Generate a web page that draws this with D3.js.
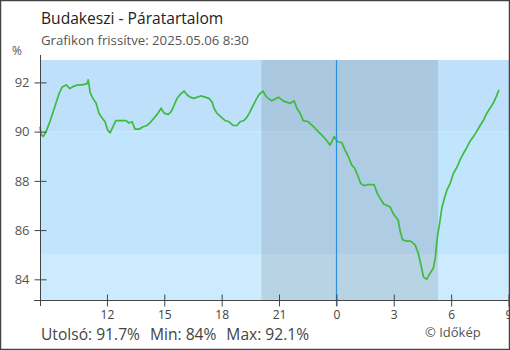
<!DOCTYPE html>
<html>
<head>
<meta charset="utf-8">
<script src="https://cdn.jsdelivr.net/npm/d3@7"></script>
<style>
  html, body { margin: 0; padding: 0; background: #fff; }
  svg { display: block; font-family: "Open Sans", "Noto Sans", sans-serif; }
</style>
</head>
<body>
<svg id="chart" width="510" height="350"></svg>
<script>
// Humidity readings, Budakeszi, 2025-05-05 08:30 → 2025-05-06 08:30
const times = [
  "08:30","08:33","08:40","08:49","09:01","09:11","09:20","09:30","09:39","09:52",
  "10:04","10:17","10:29","10:42","10:58","11:01","11:04","11:07","11:16","11:26",
  "11:35","11:45","11:54","12:03","12:10","12:19","12:28","12:41","13:00","13:09",
  "13:19","13:28","13:41","13:53","14:06","14:18","14:31","14:40","14:50","14:59",
  "15:12","15:21","15:30","15:40","15:49","16:02","16:11","16:21","16:33","16:43",
  "16:55","17:08","17:20","17:30","17:36","17:45","17:58","18:11","18:23","18:36",
  "18:48","18:58","19:10","19:20","19:29","19:38","19:48","19:57","20:09","20:21",
  "20:37","20:58","21:13","21:35","21:47","21:56","22:06","22:16","22:32","22:48",
  "23:03","23:19","23:32","23:40","23:53","00:03","00:17","00:27","00:37","00:48",
  "00:58","01:06","01:16","01:27","01:40","01:58","02:08","02:19","02:29","02:48",
  "02:59","03:14","03:20","03:28","03:41","03:53","04:07","04:17","04:25","04:33",
  "04:43","04:54","05:04","05:10","05:17","05:23","05:31","05:38","05:46","05:57",
  "06:07","06:18","06:28","06:38","06:49","06:59","07:10","07:20","07:31","07:41",
  "07:52","08:02","08:12","08:21","08:30"
];
const humidity = [
  90.2,89.9,89.8,90.0,90.4,90.8,91.15,91.55,91.8,91.9,
  91.75,91.85,91.9,91.9,91.95,92.1,91.9,91.6,91.35,91.15,
  90.75,90.55,90.4,90.05,89.95,90.2,90.45,90.45,90.45,90.35,
  90.4,90.1,90.1,90.2,90.25,90.4,90.6,90.75,90.95,90.75,
  90.7,90.8,91.05,91.35,91.5,91.65,91.5,91.4,91.35,91.4,
  91.45,91.4,91.35,91.2,90.95,90.75,90.6,90.45,90.4,90.25,
  90.25,90.4,90.45,90.6,90.8,91.05,91.3,91.5,91.65,91.4,
  91.25,91.4,91.25,91.15,91.25,90.95,90.75,90.45,90.4,90.2,
  90.0,89.8,89.6,89.45,89.8,89.6,89.55,89.25,89.0,88.65,
  88.5,88.25,87.9,87.8,87.85,87.85,87.5,87.25,87.05,86.95,
  86.65,86.4,85.95,85.6,85.55,85.55,85.4,85.05,84.6,84.1,
  84.0,84.25,84.45,84.85,85.75,86.2,86.9,87.25,87.6,87.9,
  88.3,88.55,88.85,89.1,89.35,89.6,89.8,90.0,90.25,90.45,
  90.75,90.95,91.15,91.4,91.7
];
const yTicks = [84, 86, 88, 90, 92];
const xTickHours = ["12", "15", "18", "21", "0", "3", "6", "9"];
const bandEdges = [90, 85];               // background band limits, %
const night = ["2025-05-05T20:05", "2025-05-06T05:19"];
const midnight = "2025-05-06T00:00";
const domainStart = "2025-05-05T08:30";
const domainEnd = "2025-05-06T09:00";
const titleText = "Budakeszi - Páratartalom";
const subtitleText = "Grafikon frissítve: 2025.05.06 8:30";
const creditText = "© Időkép";

// Build timestamps, rolling over to the next day after midnight
const parse = d3.timeParse("%Y-%m-%dT%H:%M");
let day = 5, prevH = -1;
const data = times.map((t, i) => {
  const h = +t.slice(0, 2);
  if (h < prevH) day += 1;
  prevH = h;
  return { t: parse(`2025-05-0${day}T${t}`), v: humidity[i] };
});

const svg = d3.select("#chart");
const W = 510, H = 350;
const plotL = 40, plotR = 508.5, plotT = 60, plotB = 300;

const x = d3.scaleTime().domain([parse(domainStart), parse(domainEnd)]).range([plotL, plotR]);
const y = d3.scaleLinear().domain([83.16, 92.91]).range([plotB, plotT]);

// Background bands
const bands = [
  { y0: plotT, y1: y(bandEdges[0]), fill: "#bee0fb" },
  { y0: y(bandEdges[0]), y1: y(bandEdges[1]), fill: "#c2e5fe" },
  { y0: y(bandEdges[1]), y1: plotB, fill: "#cdebfe" }
];
svg.append("g").selectAll("rect").data(bands).join("rect")
  .attr("x", plotL).attr("width", W - plotL)
  .attr("y", d => d.y0).attr("height", d => d.y1 - d.y0)
  .attr("fill", d => d.fill);

// Night shading
svg.append("rect")
  .attr("x", x(parse(night[0])))
  .attr("width", x(parse(night[1])) - x(parse(night[0])))
  .attr("y", plotT).attr("height", plotB - plotT)
  .attr("fill", "rgba(0,0,0,0.1)");

// Humidity line
svg.append("path")
  .datum(data)
  .attr("fill", "none")
  .attr("stroke", "#3dbb3d")
  .attr("stroke-width", 1.7)
  .attr("stroke-linejoin", "round")
  .attr("d", d3.line().x(d => x(d.t)).y(d => y(d.v)));

// Midnight marker
const mx = Math.round(x(parse(midnight))) + 0.5;
svg.append("line")
  .attr("x1", mx).attr("x2", mx)
  .attr("y1", plotT).attr("y2", plotB + 6)
  .attr("stroke", "#2a90de").attr("stroke-width", 1.2);

// Y axis
const yAxis = svg.append("g").attr("transform", `translate(${plotL + 0.5},0)`)
  .call(d3.axisLeft(y).tickValues(yTicks).tickSize(6).tickSizeOuter(0));
yAxis.select(".domain").remove();
yAxis.selectAll(".tick line").attr("x2", -6).attr("x1", 6).attr("stroke", "#444");
yAxis.selectAll(".tick text").attr("x", -11).attr("fill", "#555")
  .attr("font-size", 13).attr("font-family", "Open Sans");
svg.append("line").attr("x1", plotL + 0.5).attr("x2", plotL + 0.5)
  .attr("y1", plotT - 5).attr("y2", plotB + 6).attr("stroke", "#444");

// X axis
const xTicks = xTickHours.map(h => {
  const hh = +h;
  const d = hh > 9 ? `2025-05-05T${String(hh).padStart(2, "0")}:00`
                   : `2025-05-06T${String(hh).padStart(2, "0")}:00`;
  return parse(d);
});
const xAxis = svg.append("g").attr("transform", `translate(0,${plotB + 0.5})`)
  .call(d3.axisBottom(x).tickValues(xTicks).tickSize(6).tickSizeOuter(0)
    .tickFormat((d, i) => xTickHours[i]));
xAxis.select(".domain").remove();
xAxis.selectAll(".tick line").attr("y1", -6).attr("y2", 6).attr("stroke", "#444");
xAxis.selectAll(".tick text").attr("y", 10).attr("fill", "#444")
  .attr("font-size", 12).attr("font-family", "Open Sans");
svg.append("line").attr("x1", plotL - 6).attr("x2", W)
  .attr("y1", plotB + 0.5).attr("y2", plotB + 0.5).attr("stroke", "#444");

// Unit label
svg.append("text").attr("x", 12).attr("y", 55).attr("fill", "#555")
  .attr("font-size", 12).text("%");

// Titles
svg.append("text").attr("x", 41).attr("y", 24).attr("fill", "#222")
  .attr("font-size", 15.6).text(titleText);
svg.append("text").attr("x", 41).attr("y", 45).attr("fill", "#555")
  .attr("font-size", 13.2).text(subtitleText);

// Footer statistics
const fmt = v => d3.format(".1f")(v).replace(/\.0$/, "");
const last = humidity[humidity.length - 1];
const foot = svg.append("text").attr("x", 41).attr("y", 340).attr("fill", "#444")
  .attr("font-size", 15.6);
foot.append("tspan").text(`Utolsó: ${fmt(last)}%`);
foot.append("tspan").attr("dx", 10).text(`Min: ${fmt(d3.min(humidity))}%`);
foot.append("tspan").attr("dx", 10).text(`Max: ${fmt(d3.max(humidity))}%`);

svg.append("text").attr("x", 425).attr("y", 337).attr("fill", "#555")
  .attr("font-size", 13).text(creditText);

// Outer frame
svg.append("rect").attr("x", 0.5).attr("y", 0.5).attr("width", W - 1).attr("height", H - 1)
  .attr("fill", "none").attr("stroke", "#444").attr("stroke-width", 1.5);
</script>
</body>
</html>
